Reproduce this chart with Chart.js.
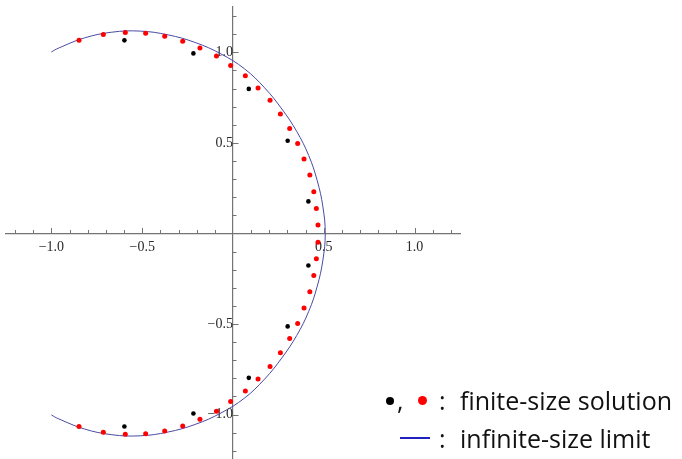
<!DOCTYPE html>
<html>
<head>
<meta charset="utf-8">
<script src="https://cdn.jsdelivr.net/npm/chart.js@4.4.1/dist/chart.umd.min.js"></script>
<style>
  html, body { margin: 0; padding: 0; background: #fff; }
  #wrap { position: relative; width: 682px; height: 459px; overflow: hidden; }
  #plot { position: absolute; left: 0; top: 0; }
  .key { position: absolute; font-family: "Open Sans", Lato, sans-serif; font-size: 25px; line-height: 25px; color: #111; white-space: nowrap; }
  .dot { position: absolute; border-radius: 50%; }
  .bar { position: absolute; height: 2px; background: #2020c0; }
</style>
</head>
<body>
<div id="wrap">
  <canvas id="plot" width="682" height="459"></canvas>
  <div class="dot" style="left:386px;top:397px;width:8px;height:8px;background:#000"></div>
  <span class="key" style="left:397px;top:388px">,</span>
  <div class="dot" style="left:418px;top:396px;width:9px;height:9px;background:#f00"></div>
  <span class="key" style="left:439px;top:388px">:</span>
  <span class="key" style="left:460px;top:388px">finite-size solution</span>
  <div class="bar" style="left:400px;top:437px;width:30px"></div>
  <span class="key" style="left:439px;top:426px">:</span>
  <span class="key" style="left:460px;top:426px">infinite-size limit</span>
</div>
<script>
// finite-size solution, black points
const blackX = [-0.598, -0.218, 0.087, 0.301, 0.415, 0.415, 0.301, 0.087, -0.218, -0.598];
const blackY = [1.066, 0.994, 0.798, 0.512, 0.177, -0.177, -0.513, -0.797, -0.994, -1.066];

// finite-size solution, red points (upper half, then lower half)
const redX = [-0.848, -0.714, -0.593, -0.481, -0.376, -0.277, -0.182, -0.091, -0.013, 0.068,
              0.138, 0.204, 0.261, 0.312, 0.356, 0.391, 0.423, 0.445, 0.459, 0.468,
              0.468, 0.459, 0.445, 0.423, 0.391, 0.356, 0.312, 0.261, 0.204, 0.138,
              0.068, -0.013, -0.091, -0.182, -0.277, -0.376, -0.481, -0.593, -0.714, -0.848];
const redY = [1.066, 1.098, 1.109, 1.105, 1.088, 1.061, 1.024, 0.980, 0.927, 0.870,
              0.803, 0.735, 0.660, 0.580, 0.496, 0.411, 0.323, 0.230, 0.138, 0.046,
              -0.048, -0.140, -0.232, -0.322, -0.412, -0.497, -0.580, -0.659, -0.735, -0.804,
              -0.869, -0.928, -0.981, -1.026, -1.063, -1.091, -1.106, -1.109, -1.098, -1.066];

// infinite-size limit curve (top end -> right tip -> bottom end)
const curveX = [-1.000, -0.963, -0.819, -0.667, -0.511, -0.357, -0.208, -0.066, 0.063, 0.174,
                0.269, 0.351, 0.417, 0.464, 0.495, 0.508,
                0.495, 0.464, 0.417, 0.351, 0.269, 0.174, 0.063, -0.066, -0.208, -0.357,
                -0.511, -0.667, -0.819, -0.963, -1.000];
const curveY = [1.002, 1.022, 1.079, 1.111, 1.117, 1.096, 1.054, 0.991, 0.909, 0.804,
                0.687, 0.563, 0.430, 0.291, 0.147, 0.000,
                -0.147, -0.291, -0.430, -0.563, -0.687, -0.804, -0.909, -0.991, -1.054, -1.096,
                -1.117, -1.111, -1.079, -1.022, -1.002];

// labelled ticks
const tickValues = [-1.0, -0.5, 0.5, 1.0];
const tickLabels = ["\u22121.0", "\u22120.5", "0.5", "1.0"];
// tick marks every 0.1 from -1.2 to 1.2
const tickSteps = Array.from({ length: 25 }, (_, i) => (i - 12) / 10);

const axisColor = "#747474";
const pts = (xs, ys) => xs.map((x, i) => ({ x, y: ys[i] }));

function labelFor(v) {
  const i = tickValues.findIndex(t => Math.abs(t - v) < 1e-6);
  return i < 0 ? null : tickLabels[i];
}

// keep the plot square: fixed plotting box, axes crossing at the origin
const area = { left: 6, top: 7, right: 460, bottom: 459 };
const pinArea = {
  id: "pinArea",
  afterLayout(chart) {
    const { x, y } = chart.scales;
    Object.assign(chart.chartArea, area, { width: area.right - area.left, height: area.bottom - area.top });
    x.left = area.left; x.right = area.right; x.width = area.right - area.left;
    y.top = area.top; y.bottom = area.bottom; y.height = area.bottom - area.top;
    x.configure(); y.configure();
  }
};

const tickMarks = {
  id: "tickMarks",
  afterDraw(chart) {
    const { ctx, scales: { x, y } } = chart;
    const x0 = x.getPixelForValue(0);
    const y0 = y.getPixelForValue(0);
    ctx.save();
    ctx.strokeStyle = axisColor;
    ctx.lineWidth = 1;
    tickSteps.forEach(v => {
      if (v === 0) return;
      const len = labelFor(v) ? 5.5 : 3.5;
      const px = Math.round(x.getPixelForValue(v)) + 0.5;
      ctx.beginPath(); ctx.moveTo(px, y0); ctx.lineTo(px, y0 - len); ctx.stroke();
      const py = Math.round(y.getPixelForValue(v)) + 0.5;
      ctx.beginPath(); ctx.moveTo(x0, py); ctx.lineTo(x0 + len, py); ctx.stroke();
    });
    ctx.restore();
  }
};

const tickFont = { family: '"Liberation Serif", "Times New Roman", serif', size: 14 };
const setTicks = scale => { scale.ticks = tickSteps.map(v => ({ value: v })); };

new Chart(document.getElementById("plot"), {
  type: "scatter",
  data: {
    datasets: [
      { label: "finite-size solution (black)", data: pts(blackX, blackY),
        backgroundColor: "#000", borderWidth: 0, pointRadius: 2.3 },
      { label: "finite-size solution (red)", data: pts(redX, redY),
        backgroundColor: "#ff0000", borderWidth: 0, pointRadius: 2.5 },
      { label: "infinite-size limit", data: pts(curveX, curveY), showLine: true,
        borderColor: "#4a4aa4", borderWidth: 1, pointRadius: 0, tension: 0.4, fill: false }
    ]
  },
  options: {
    responsive: false,
    animation: false,
    devicePixelRatio: 1,
    layout: { padding: { left: 6, right: 222, top: 7, bottom: 0 } },
    plugins: { legend: { display: false }, tooltip: { enabled: false } },
    scales: {
      x: {
        type: "linear",
        position: { y: 0 },
        min: -1.25, max: 1.25,
        afterBuildTicks: setTicks,
        grid: { display: false, drawTicks: false },
        border: { color: axisColor, width: 1.2 },
        ticks: { autoSkip: false, maxRotation: 0, padding: 5, color: "#2a2a2a",
                 font: tickFont, callback: v => labelFor(v) }
      },
      y: {
        type: "linear",
        position: { x: 0 },
        min: -1.245, max: 1.25,
        afterBuildTicks: setTicks,
        grid: { display: false, drawTicks: false },
        border: { color: axisColor, width: 1.2 },
        ticks: { autoSkip: false, padding: 3, color: "#2a2a2a",
                 font: tickFont, callback: v => labelFor(v) }
      }
    }
  },
  plugins: [pinArea, tickMarks]
});
</script>
</body>
</html>
